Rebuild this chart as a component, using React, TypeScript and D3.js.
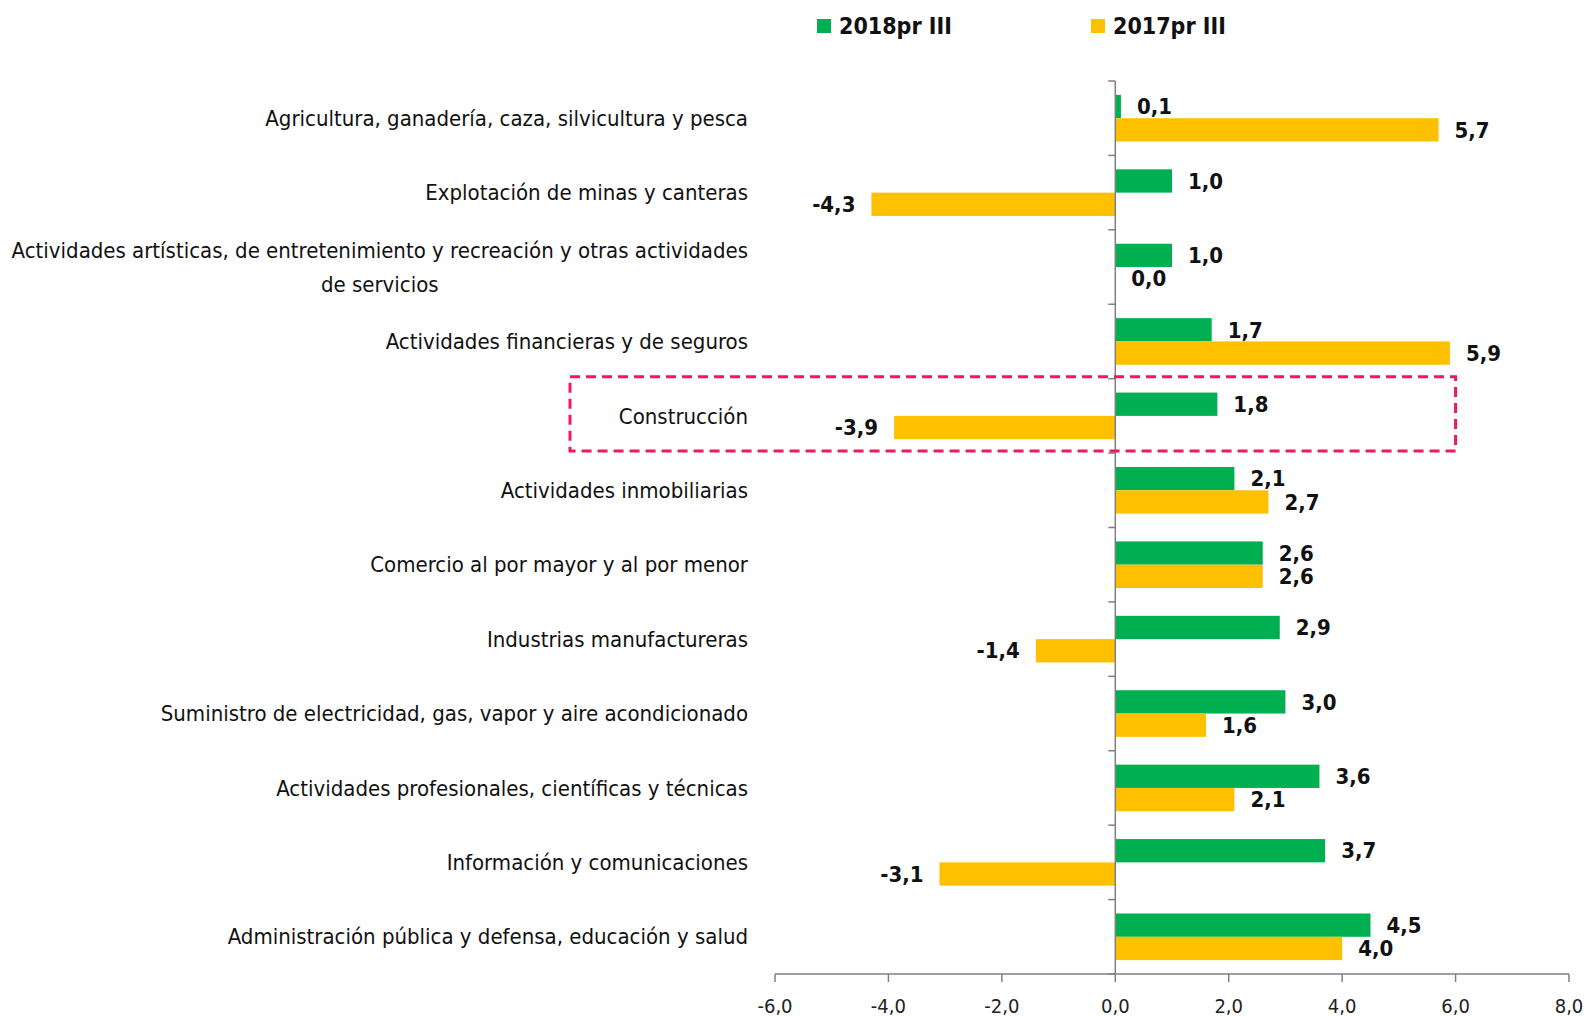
import React, { useEffect, useRef } from "react";
import * as d3 from "d3";

const categories = [
    "Agricultura, ganadería, caza, silvicultura y pesca",
    "Explotación de minas y canteras",
    "Actividades artísticas, de entretenimiento y recreación y otras actividades|de servicios",
    "Actividades financieras y de seguros",
    "Construcción",
    "Actividades inmobiliarias",
    "Comercio al por mayor y al por menor",
    "Industrias manufactureras",
    "Suministro de electricidad, gas, vapor y aire acondicionado",
    "Actividades profesionales, científicas y técnicas",
    "Información y comunicaciones",
    "Administración pública y defensa, educación y salud",
];
const values2018 = [0.1, 1.0, 1.0, 1.7, 1.8, 2.1, 2.6, 2.9, 3.0, 3.6, 3.7, 4.5];
const values2017 = [5.7, -4.3, 0.0, 5.9, -3.9, 2.7, 2.6, -1.4, 1.6, 2.1, -3.1, 4.0];
const seriesNames = ["2018pr III", "2017pr III"];
const xTicks = [-6, -4, -2, 0, 2, 4, 6, 8];
const highlighted = "Construcción";

const COLORS = ["#00B050", "#FFC000"];
const W = 1588;
const H = 1016;
const FONT = "'Liberation Sans Narrow', 'DejaVu Sans Condensed', 'Roboto', sans-serif";

const fmt = (v: number) => v.toFixed(1).replace(".", ",");

export default function App() {
    const ref = useRef<SVGSVGElement>(null);

    useEffect(() => {
        const svg = d3.select(ref.current);
        svg.selectAll("*").remove();

        const x = d3.scaleLinear().domain([-6, 8]).range([775, 1569]);
        const y = d3.scaleBand().domain(categories).range([81, 974]);
        const barH = 23.3;

        const g = svg.append("g");

        // bars + value labels
        const series = [values2018, values2017];
        series.forEach((vals, s) => {
            g.selectAll(null)
                .data(vals)
                .join("rect")
                .attr("x", (d) => x(Math.min(0, d)))
                .attr("width", (d) => Math.abs(x(d) - x(0)))
                .attr("y", (_, i) => y(categories[i])! + y.bandwidth() / 2 - (s === 0 ? barH : 0))
                .attr("height", barH)
                .attr("fill", COLORS[s]);

            g.selectAll(null)
                .data(vals)
                .join("text")
                .attr("x", (d) => (d < 0 ? x(d) - 16 : x(d) + 16))
                .attr("y", (_, i) => y(categories[i])! + y.bandwidth() / 2 + (s === 0 ? -barH / 2 : barH / 2))
                .attr("dy", "0.35em")
                .attr("text-anchor", (d) => (d < 0 ? "end" : "start"))
                .attr("font-family", FONT)
                .attr("font-weight", "bold")
                .attr("font-size", 22)
                .attr("fill", "#111")
                .text((d) => fmt(d));
        });

        // vertical axis (at zero)
        g.append("line")
            .attr("x1", x(0)).attr("x2", x(0))
            .attr("y1", 81).attr("y2", 974)
            .attr("stroke", "#808080").attr("stroke-width", 1.5);
        [...categories.map((c) => y(c)!), 974].forEach((yy) => {
            g.append("line")
                .attr("x1", x(0) - 7).attr("x2", x(0))
                .attr("y1", yy).attr("y2", yy)
                .attr("stroke", "#808080").attr("stroke-width", 1.5);
        });

        // x axis
        const xAxis = g.append("g").attr("transform", "translate(0,974)");
        xAxis.append("line")
            .attr("x1", x(-6)).attr("x2", x(8))
            .attr("stroke", "#808080").attr("stroke-width", 1.5);
        xTicks.forEach((t) => {
            xAxis.append("line")
                .attr("x1", x(t)).attr("x2", x(t))
                .attr("y1", 0).attr("y2", 8)
                .attr("stroke", "#808080").attr("stroke-width", 1.5);
            xAxis.append("text")
                .attr("x", x(t)).attr("y", 32)
                .attr("dy", "0.35em")
                .attr("text-anchor", "middle")
                .attr("font-family", FONT)
                .attr("font-size", 20)
                .attr("fill", "#222")
                .text(fmt(t));
        });

        // category labels
        categories.forEach((c) => {
            const lines = c.split("|");
            const cy = y(c)! + y.bandwidth() / 2;
            const rightX = 748;
            if (lines.length === 1) {
                g.append("text")
                    .attr("x", rightX).attr("y", cy).attr("dy", "0.35em")
                    .attr("text-anchor", "end")
                    .attr("font-family", FONT).attr("font-size", 22).attr("fill", "#111")
                    .text(c);
            } else {
                const first = g.append("text")
                    .attr("x", rightX).attr("y", cy - 17).attr("dy", "0.35em")
                    .attr("text-anchor", "end")
                    .attr("font-family", FONT).attr("font-size", 22).attr("fill", "#111")
                    .text(lines[0]);
                const w = (first.node() as SVGTextElement).getComputedTextLength();
                g.append("text")
                    .attr("x", rightX - w / 2).attr("y", cy + 17).attr("dy", "0.35em")
                    .attr("text-anchor", "middle")
                    .attr("font-family", FONT).attr("font-size", 22).attr("fill", "#111")
                    .text(lines[1]);
            }
        });

        // highlight box
        g.append("rect")
            .attr("x", 570).attr("y", y(highlighted)! - 2)
            .attr("width", x(6) - 570).attr("height", y.bandwidth())
            .attr("fill", "none")
            .attr("stroke", "#F0185F").attr("stroke-width", 3)
            .attr("stroke-dasharray", "10,6");

        // legend
        const legendX = [817, 1091];
        seriesNames.forEach((name, i) => {
            g.append("rect")
                .attr("x", legendX[i]).attr("y", 19)
                .attr("width", 14).attr("height", 14)
                .attr("fill", COLORS[i]);
            g.append("text")
                .attr("x", legendX[i] + 22).attr("y", 26).attr("dy", "0.35em")
                .attr("font-family", FONT).attr("font-weight", "bold")
                .attr("font-size", 23).attr("fill", "#111")
                .text(name);
        });
    }, []);

    return (
        <svg
            ref={ref}
            width={W}
            height={H}
            style={{ position: "absolute", left: 0, top: 0, background: "#fff", display: "block" }}
        />
    );
}
